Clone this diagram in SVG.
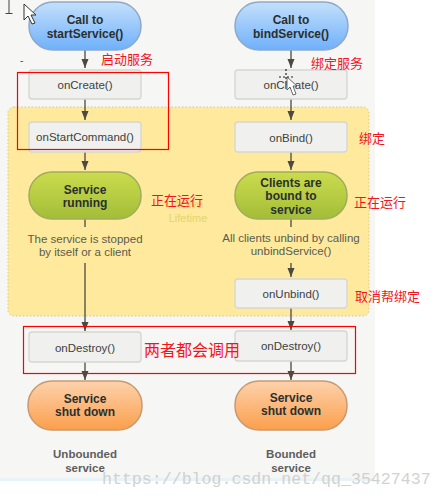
<svg xmlns="http://www.w3.org/2000/svg" width="443" height="500" viewBox="0 0 443 500">
<style>
.t{font-family:"Liberation Sans",Arial,sans-serif;text-anchor:middle}
.b{font-weight:bold;font-size:12px;fill:#2a2f30}
.m{font-size:11.5px;fill:#3c3f40}
.s{font-size:11.5px;fill:#5a5c50}
.g{font-weight:bold;font-size:11.5px;fill:#5e5e5e}
.box{fill:#f0f0ee;stroke:#d6d6d0;stroke-width:1.3}
.blue{fill:url(#bl);stroke:#8ea9c9;stroke-width:1.5}
.green{fill:url(#gr);stroke:#a0ad5c;stroke-width:1.5}
.orange{fill:url(#or);stroke:#c79a70;stroke-width:1.5}
.c{stroke:#4a4a40;stroke-width:1.3;fill:none;marker-end:url(#a)}
.l{stroke:#4a4a40;stroke-width:1.3;fill:none}
.r{fill:none;stroke:#f00;stroke-width:1.2}
.z{font-family:"Noto Sans CJK SC",sans-serif;font-size:13px;fill:#f4141e}
.a{font-size:11px;fill:#e5d36f}
</style>
<defs>
<linearGradient id="bl" x1="0" y1="0" x2="0" y2="1"><stop offset="0" stop-color="#c4e0fb"/><stop offset="1" stop-color="#6fb0fa"/></linearGradient>
<linearGradient id="gr" x1="0" y1="0" x2="0" y2="1"><stop offset="0" stop-color="#cbdc4d"/><stop offset="1" stop-color="#a3bd38"/></linearGradient>
<linearGradient id="or" x1="0" y1="0" x2="0" y2="1"><stop offset="0" stop-color="#fdd2ac"/><stop offset="1" stop-color="#fb9f4c"/></linearGradient>
<marker id="a" markerWidth="8" markerHeight="10" refX="4" refY="9" orient="0" markerUnits="userSpaceOnUse"><path d="M0.500 0L7.500 0L4 9Z" fill="#4a4a40"/></marker>
</defs>
<rect width="443" height="500" fill="#fff"/>
<rect x="0" y="0" width="375" height="478" fill="#f6f6f4"/>
<rect x="0" y="478" width="375" height="3" fill="#e8f3f7"/>
<rect x="8" y="107" width="361" height="209" rx="6" fill="#fee99d" stroke="#d8c98c" stroke-width="1" stroke-dasharray="1.5 2"/>
<text class="t a" x="188" y="208">Active</text>
<text class="t a" x="188" y="222">Lifetime</text>
<g id="connectors">
<path class="c" d="M85 50V68"/><path class="c" d="M85 99V120"/><path class="c" d="M85 152V170"/><path class="l" d="M85 219V227"/><path class="c" d="M85 263V331"/><path class="c" d="M85 362V380"/>
<path class="c" d="M291 50V68"/><path class="c" d="M291 99V120"/><path class="c" d="M291 152V170"/><path class="l" d="M291 219V227"/><path class="c" d="M291 263V277"/><path class="c" d="M291 308V330"/><path class="c" d="M291 361V380"/>
</g>
<g id="call-start"><rect class="blue" x="29" y="2" width="112" height="48" rx="24"/><text class="t b" x="85" y="24">Call to</text><text class="t b" x="85" y="38">startService()</text></g>
<g id="call-bind"><rect class="blue" x="235" y="2" width="113" height="48" rx="24"/><text class="t b" x="291" y="24">Call to</text><text class="t b" x="291" y="38">bindService()</text></g>
<g id="oncreate-1"><rect class="box" x="29" y="70" width="112" height="29" rx="3"/><text class="t m" x="85" y="89">onCreate()</text></g>
<g id="oncreate-2"><rect class="box" x="235" y="70" width="112" height="29" rx="3"/><text class="t m" x="291" y="89">onCreate()</text></g>
<g id="onstart"><rect class="box" x="29" y="122" width="112" height="30" rx="3"/><text class="t m" x="85" y="141">onStartCommand()</text></g>
<g id="onbind"><rect class="box" x="235" y="122" width="112" height="30" rx="3"/><text class="t m" x="291" y="142">onBind()</text></g>
<g id="running"><rect class="green" x="29" y="172" width="112" height="47" rx="23"/><text class="t b" x="85" y="194">Service</text><text class="t b" x="85" y="207">running</text></g>
<g id="bound"><rect class="green" x="235" y="172" width="112" height="47" rx="23"/><text class="t b" x="291" y="187">Clients are</text><text class="t b" x="291" y="200">bound to</text><text class="t b" x="291" y="214">service</text></g>
<text class="t s" x="85" y="243">The service is stopped</text><text class="t s" x="85" y="256">by itself or a client</text>
<text class="t s" x="291" y="242">All clients unbind by calling</text><text class="t s" x="291" y="255">unbindService()</text>
<g id="onunbind"><rect class="box" x="235" y="279" width="112" height="29" rx="3"/><text class="t m" x="291" y="298">onUnbind()</text></g>
<g id="ondestroy-1"><rect class="box" x="29" y="332" width="112" height="30" rx="3"/><text class="t m" x="85" y="352">onDestroy()</text></g>
<g id="ondestroy-2"><rect class="box" x="235" y="331" width="112" height="30" rx="3"/><text class="t m" x="291" y="350">onDestroy()</text></g>
<g id="shutdown-1"><rect class="orange" x="28" y="381" width="114" height="49" rx="24"/><text class="t b" x="85" y="403">Service</text><text class="t b" x="85" y="416">shut down</text></g>
<g id="shutdown-2"><rect class="orange" x="235" y="381" width="112" height="49" rx="24"/><text class="t b" x="291" y="402">Service</text><text class="t b" x="291" y="415">shut down</text></g>
<text class="t g" x="85" y="458">Unbounded</text><text class="t g" x="85" y="472">service</text>
<text class="t g" x="291" y="458">Bounded</text><text class="t g" x="291" y="472">service</text>
<rect class="r" x="17.500" y="72.500" width="151" height="77"/>
<rect class="r" x="23.500" y="326.500" width="332" height="47"/>
<text class="z" x="101" y="64">启动服务</text>
<text class="z" x="311" y="68">绑定服务</text>
<text class="z" x="359" y="143">绑定</text>
<text class="z" x="151" y="205">正在运行</text>
<text class="z" x="354" y="207">正在运行</text>
<text class="z" x="355" y="301">取消帮绑定</text>
<text class="z" x="144" y="356" style="font-size:16px">两者都会调用</text>
<text x="20" y="64" font-family="Liberation Sans" font-size="11" fill="#f00">-</text>
<text x="102" y="484" font-family="Liberation Mono" font-size="16.600" fill="#c8c8c8" opacity=".8">https://blog.csdn.net/qq_35427437</text>
<path d="M24 4V20L28 16L32 24L35 23L31 15H36Z" fill="#fff" stroke="#333" stroke-width="1"/>
<path d="M9 0V13M5.500 13.500H12.500" stroke="#444" stroke-width="1" fill="none"/>
<path d="M286 69V83M279 77H293" stroke="#222" stroke-width="1.200" stroke-dasharray="2 2" fill="none"/>
<path d="M287 77V90L290 87L293 95L296 94L293 86L297 86Z" fill="#fff" stroke="#444" stroke-width=".8"/>
</svg>
